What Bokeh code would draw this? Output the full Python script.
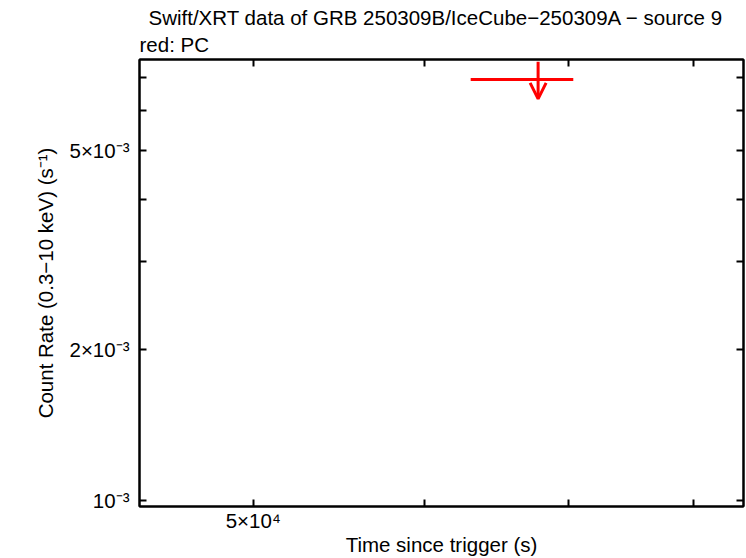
from bokeh.plotting import figure
from bokeh.models import LogAxis, FixedTicker, ColumnDataSource, Arrow, OpenHead, Title, Range1d
from bokeh.embed import file_html
from bokeh.resources import INLINE

# ---- text ----
title_line1 = "Swift/XRT data of GRB 250309B/IceCube\u2212250309A \u2212 source 9"
title_line2 = "red: PC"
x_label = "Time since trigger (s)"
y_label = "Count Rate (0.3\u221210 keV) (s\u207b\u00b9)"

# ---- data (PC mode upper limit) ----
pc_time = [67750.0]
pc_time_lo = [63050.0]
pc_time_hi = [70340.0]
pc_rate_ul = [6.93e-3]

# ---- axes ----
x_start, x_end = 44290.0, 84340.0
y_start, y_end = 0.973e-3, 7.6e-3
x_major = [50000.0]
x_minor = [60000.0, 70000.0, 80000.0]
x_labels = {50000.0: "5\u00d710\u2074"}
y_major = [0.001, 0.002, 0.005]
y_minor = [0.003, 0.004, 0.006, 0.007]
y_labels = {0.001: "10\u207b\u00b3", 0.002: "2\u00d710\u207b\u00b3", 0.005: "5\u00d710\u207b\u00b3"}

FONT = "Liberation Sans"
RED = "#ff0000"

p = figure(width=746, height=558, x_axis_type="log", y_axis_type="log",
           x_range=Range1d(x_start, x_end), y_range=Range1d(y_start, y_end),
           output_backend="svg", toolbar_location=None, title=None,
           min_border_left=139, min_border_right=3, min_border_top=59, min_border_bottom=0)
p.xgrid.visible = False
p.ygrid.visible = False
p.outline_line_color = "black"
p.outline_line_width = 2
p.background_fill_color = "white"
p.border_fill_color = "white"

def style_axis(ax, ticks, minor, labels, show_labels):
    ax.ticker = FixedTicker(ticks=ticks, minor_ticks=minor)
    ax.axis_line_width = 2
    ax.axis_line_color = "black"
    ax.major_tick_in = 7
    ax.major_tick_out = 0
    ax.minor_tick_in = 7
    ax.minor_tick_out = 0
    ax.major_tick_line_width = 2
    ax.minor_tick_line_width = 2
    ax.major_label_text_font = FONT
    ax.major_label_text_font_size = "20.5px"
    ax.major_label_text_color = "black"
    if show_labels:
        ax.major_label_overrides = labels
    else:
        ax.major_label_text_font_size = "2px"
        ax.major_label_text_alpha = 0
        ax.major_label_standoff = 0

style_axis(p.xaxis[0], x_major, x_minor, x_labels, True)
style_axis(p.yaxis[0], y_major, y_minor, y_labels, True)
p.xaxis[0].axis_label = x_label
p.yaxis[0].axis_label = y_label
for ax in (p.xaxis[0], p.yaxis[0]):
    ax.axis_label_text_font = FONT
    ax.axis_label_text_font_size = "20.5px"
    ax.axis_label_text_font_style = "normal"
    ax.axis_label_text_color = "black"
p.xaxis[0].major_label_standoff = 2
p.xaxis[0].axis_label_standoff = -2
p.yaxis[0].major_label_standoff = 10
p.yaxis[0].axis_label_standoff = 9

top_ax = LogAxis()
style_axis(top_ax, x_major, x_minor, {}, False)
p.add_layout(top_ax, "above")
right_ax = LogAxis()
style_axis(right_ax, y_major, y_minor, {}, False)
p.add_layout(right_ax, "right")

t2 = Title(text=title_line2, align="left", offset=0, text_font=FONT, text_font_size="20.5px",
           text_font_style="normal", text_color="black", standoff=8)
p.add_layout(t2, "above")
t1 = Title(text=title_line1, align="left", offset=9, text_font=FONT, text_font_size="20.5px",
           text_font_style="normal", text_color="black", standoff=-5)
p.add_layout(t1, "above")

# ---- upper limit marker ----
src = ColumnDataSource(dict(
    t=pc_time, lo=pc_time_lo, hi=pc_time_hi, ul=pc_rate_ul,
    top=[v * 1.085 for v in pc_rate_ul], tip=[v * 0.915 for v in pc_rate_ul]))
p.segment(x0="lo", y0="ul", x1="hi", y1="ul", source=src, line_color=RED, line_width=3)
p.add_layout(Arrow(end=OpenHead(size=16, line_color=RED, line_width=3),
                   x_start="t", y_start="top", x_end="t", y_end="tip",
                   source=src, line_color=RED, line_width=3))

open("out.html", "w").write(file_html(p, INLINE))
